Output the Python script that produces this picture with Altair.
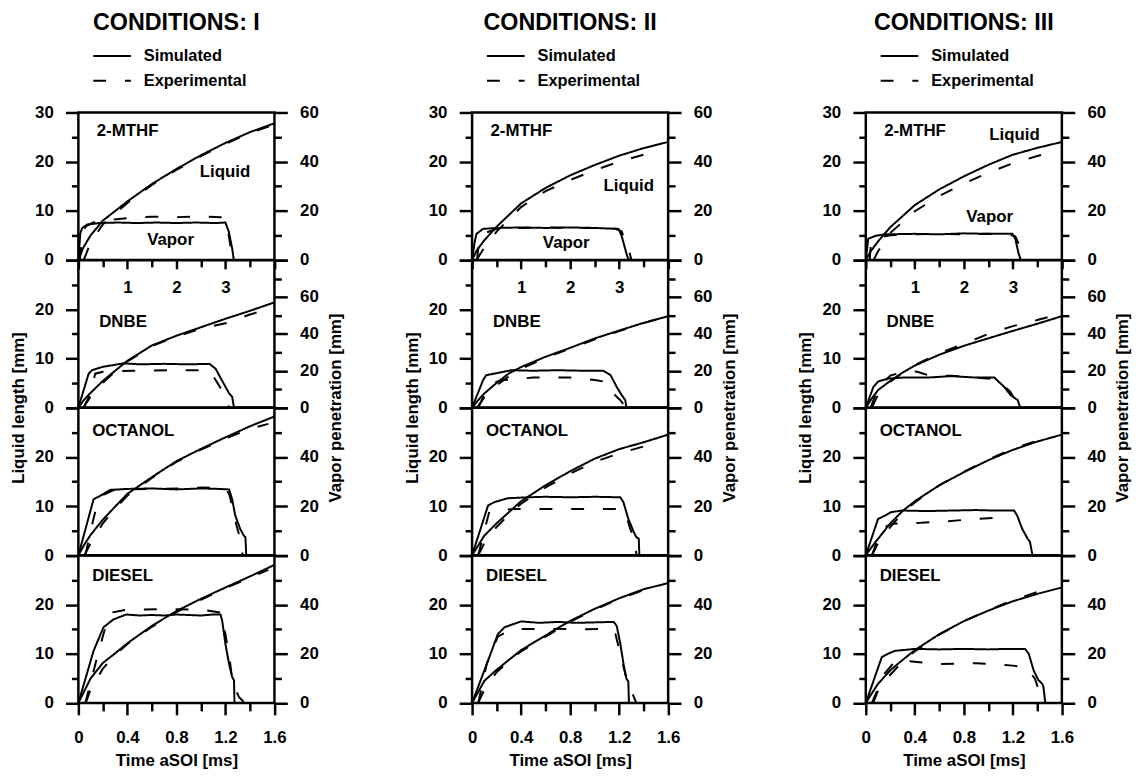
import altair as alt
import pandas as pd

FONT = "Liberation Sans"
KINDS = ["Simulated", "Experimental"]
DASHES = [[1, 0], [13, 19]]
PANEL_NAMES = ["2-MTHF", "DNBE", "OCTANOL", "DIESEL"]
COLUMN_TITLES = ["CONDITIONS: I", "CONDITIONS: II", "CONDITIONS: III"]

# ---------------- Column I ----------------
I_MTHF_FLAT_SIM = [(0, 0), (0.04, 5.5), (0.08, 6.5), (0.18, 7.2), (0.44, 7.5), (0.8, 7.6), (1.2, 7.5), (1.6, 7.6), (2.0, 7.5), (2.4, 7.6), (2.8, 7.5), (3.0, 7.6), (3.07, 5.7), (3.14, 2.2), (3.17, 0), (4.0, 0)]
I_MTHF_FLAT_EXP = [(0.03, 0), (0.08, 5.0), (0.15, 6.8), (0.3, 7.6), (0.6, 8.1), (1.0, 8.5), (1.5, 8.8), (2.0, 8.7), (2.5, 8.8), (2.9, 8.7), (3.02, 8.0), (3.1, 3.0), (3.15, 0)]
I_MTHF_RISE_SIM = [(0, 0), (0.1, 5), (0.25, 10), (0.5, 16), (1.0, 23.8), (1.5, 30.9), (2.0, 37), (2.5, 42.6), (3.0, 47.6), (3.5, 52), (4.0, 55.6)]
I_MTHF_RISE_EXP = [(0.11, 0), (0.25, 7), (0.5, 14.5), (1.0, 23.2), (1.5, 30.5), (2.0, 36.6), (2.5, 42.2), (3.0, 47.2), (3.5, 51.6), (4.0, 55.2)]

I_DNBE_FLAT_SIM = [(0, 0), (0.084, 6.9), (0.11, 7.6), (0.2, 8.3), (0.37, 9.0), (0.5, 8.8), (0.7, 8.9), (0.9, 8.8), (1.07, 8.9), (1.12, 7.9), (1.17, 5.6), (1.23, 2.9), (1.255, 2.2), (1.27, 0), (1.6, 0)]
I_DNBE_FLAT_EXP = [(0.043, 0), (0.1, 2.9), (0.137, 6.9), (0.2, 7.3), (0.45, 7.5), (0.75, 7.6), (1.02, 7.6), (1.08, 7.3), (1.12, 5.6), (1.17, 3.6), (1.21, 1.5), (1.23, 0)]
I_DNBE_RISE_SIM = [(0, 0), (0.05, 4.5), (0.1, 8), (0.2, 14.5), (0.3, 20), (0.4, 25.4), (0.6, 33.7), (0.8, 39), (1.0, 43.6), (1.2, 48.2), (1.4, 52.5), (1.6, 57.1)]
I_DNBE_RISE_EXP = [(0.04, 0), (0.1, 6), (0.2, 13.5), (0.3, 19.5), (0.4, 25), (0.6, 33.3), (0.8, 38.6), (1.0, 42.8), (1.2, 45.8), (1.4, 50.5), (1.58, 54)]

I_OCT_FLAT_SIM = [(0, 0), (0.124, 11.4), (0.178, 12.1), (0.26, 13.3), (0.4, 13.5), (0.6, 13.6), (0.8, 13.4), (1.0, 13.6), (1.15, 13.5), (1.23, 13.4), (1.255, 11.4), (1.28, 8.1), (1.32, 5.4), (1.35, 4.0), (1.363, 3.7), (1.37, 0), (1.6, 0)]
I_OCT_FLAT_EXP = [(0.057, 0), (0.1, 5), (0.137, 8.8), (0.2, 12.3), (0.3, 13.4), (0.6, 13.5), (0.9, 13.6), (1.01, 13.8), (1.2, 13.6), (1.23, 12.5), (1.255, 10.1), (1.29, 6.1), (1.32, 3.4), (1.336, 2.0), (1.34, 0)]
I_OCT_RISE_SIM = [(0, 0), (0.05, 4.5), (0.1, 8.3), (0.2, 14.5), (0.3, 19.8), (0.4, 25), (0.6, 31.8), (0.8, 38.3), (1.0, 43.3), (1.2, 48), (1.4, 52.5), (1.6, 56.5)]
I_OCT_RISE_EXP = [(0.05, 0), (0.1, 5), (0.2, 13), (0.3, 19), (0.4, 24.3), (0.6, 31.5), (0.8, 38), (1.0, 43), (1.2, 47.5), (1.4, 51.5), (1.55, 53.5)]

I_DIESEL_FLAT_SIM = [(0, 0), (0.124, 10.6), (0.205, 15.4), (0.286, 17.0), (0.39, 18.0), (0.5, 17.8), (0.6, 17.9), (0.7, 17.8), (0.8, 18.0), (0.9, 17.9), (1.0, 17.8), (1.1, 18.0), (1.16, 18.0), (1.174, 16.7), (1.2, 12.0), (1.23, 7.9), (1.255, 5.3), (1.27, 4.6), (1.274, 0), (1.6, 0)]
I_DIESEL_FLAT_EXP = [(0.057, 0), (0.15, 9), (0.21, 14.5), (0.27, 18.4), (0.4, 19.0), (0.7, 19.1), (1.0, 19.0), (1.16, 18.4), (1.2, 14.0), (1.24, 7.9), (1.255, 4.6), (1.31, 1.2), (1.35, 0.2)]
I_DIESEL_RISE_SIM = [(0, 0), (0.05, 5), (0.1, 10), (0.2, 16.3), (0.3, 20.2), (0.4, 24.3), (0.6, 31.4), (0.8, 37.4), (1.0, 42.4), (1.2, 47), (1.4, 51.5), (1.6, 56.2)]
I_DIESEL_RISE_EXP = [(0.06, 0), (0.1, 5.5), (0.2, 14), (0.3, 19.5), (0.4, 24), (0.6, 31), (0.8, 37), (1.0, 42), (1.2, 46.7), (1.4, 51), (1.55, 54.2)]

# ---------------- Column II ----------------
II_MTHF_FLAT_SIM = [(0, 0), (0.05, 3.5), (0.09, 5.3), (0.22, 6.3), (0.5, 6.5), (1.0, 6.6), (1.5, 6.5), (2.0, 6.6), (2.5, 6.5), (2.99, 6.3), (3.05, 4.9), (3.16, 0.9), (3.2, 0), (4.0, 0)]
II_MTHF_FLAT_EXP = [(0.1, 0), (0.15, 4.5), (0.3, 5.6), (0.5, 6.3), (1.0, 6.5), (1.5, 6.6), (2.0, 6.5), (2.5, 6.5), (2.9, 6.4), (3.05, 5.8), (3.2, 2.0), (3.25, 0)]
II_MTHF_RISE_SIM = [(0, 0), (0.1, 4), (0.25, 8), (0.5, 13.5), (1.0, 23), (1.5, 29.3), (2.0, 34.4), (2.5, 38.6), (3.0, 42.4), (3.5, 45.5), (4.0, 48)]
II_MTHF_RISE_EXP = [(0.09, 0), (0.25, 5), (0.5, 11.5), (1.0, 21.5), (1.5, 28), (2.0, 32.5), (2.5, 36.5), (3.0, 40), (3.5, 42.8), (3.87, 44.3)]

II_DNBE_FLAT_SIM = [(0, 0), (0.09, 5.6), (0.116, 6.6), (0.18, 6.9), (0.32, 7.6), (0.5, 7.5), (0.7, 7.6), (0.9, 7.5), (1.07, 7.5), (1.13, 6.6), (1.18, 4.2), (1.22, 2.6), (1.25, 1.5), (1.26, 0), (1.6, 0)]
II_DNBE_FLAT_EXP = [(0.05, 0), (0.1, 2.6), (0.157, 4.9), (0.25, 5.6), (0.5, 6.1), (0.8, 6.1), (1.0, 5.6), (1.1, 5.2), (1.15, 2.9), (1.21, 1.5), (1.24, 0.5), (1.25, 0)]
II_DNBE_RISE_SIM = [(0, 0), (0.05, 4), (0.1, 7.7), (0.2, 13.4), (0.3, 18.5), (0.4, 22), (0.6, 27.6), (0.8, 32.4), (1.0, 37.5), (1.2, 41.8), (1.4, 46), (1.6, 49.6)]
II_DNBE_RISE_EXP = [(0.04, 0), (0.1, 5.5), (0.2, 12), (0.3, 17), (0.4, 21), (0.6, 27), (0.8, 32), (1.0, 37), (1.2, 41.5), (1.4, 45.8), (1.6, 49.6)]

II_OCT_FLAT_SIM = [(0, 0), (0.13, 10.1), (0.18, 10.8), (0.29, 11.6), (0.45, 11.8), (0.6, 11.9), (0.8, 11.8), (1.0, 11.9), (1.21, 11.8), (1.235, 10.8), (1.275, 7.4), (1.32, 4.7), (1.34, 3.7), (1.36, 3.4), (1.365, 0), (1.6, 0)]
II_OCT_FLAT_EXP = [(0.05, 0), (0.1, 5), (0.14, 8.8), (0.2, 9.2), (0.35, 9.4), (0.6, 9.4), (0.9, 9.4), (1.2, 9.4), (1.25, 8.8), (1.29, 5.4), (1.33, 3.0), (1.336, 2.0), (1.34, 0)]
II_OCT_RISE_SIM = [(0, 0), (0.05, 4), (0.1, 8), (0.2, 13), (0.3, 17.5), (0.4, 22), (0.6, 28.5), (0.8, 34.2), (1.0, 39.3), (1.2, 43.2), (1.4, 46), (1.6, 49.1)]
II_OCT_RISE_EXP = [(0.05, 0), (0.1, 5), (0.2, 11.5), (0.3, 16.5), (0.4, 21), (0.6, 27.6), (0.8, 33.2), (1.0, 38), (1.2, 41.5), (1.4, 44.3), (1.5, 45.3)]

II_DIESEL_FLAT_SIM = [(0, 0), (0.13, 8.6), (0.21, 14.0), (0.264, 15.4), (0.4, 16.6), (0.55, 16.3), (0.7, 16.5), (0.85, 16.3), (1.0, 16.4), (1.155, 16.5), (1.18, 15.7), (1.21, 12.0), (1.236, 7.9), (1.26, 4.9), (1.275, 4.4), (1.28, 0), (1.6, 0)]
II_DIESEL_FLAT_EXP = [(0.05, 0), (0.12, 8), (0.21, 13.5), (0.32, 15.0), (0.6, 15.1), (0.9, 15.0), (1.12, 15.1), (1.17, 14.0), (1.21, 10.0), (1.236, 7.3), (1.26, 4.9), (1.34, 0)]
II_DIESEL_RISE_SIM = [(0, 0), (0.05, 4.5), (0.1, 9), (0.2, 13.5), (0.3, 17.5), (0.4, 21.5), (0.6, 27.5), (0.8, 33.4), (1.0, 38.3), (1.2, 42.6), (1.4, 46.3), (1.6, 48.8)]
II_DIESEL_RISE_EXP = [(0.05, 0), (0.1, 5.5), (0.2, 12.5), (0.3, 17), (0.4, 21), (0.6, 27), (0.8, 33), (1.0, 38), (1.2, 42.3), (1.4, 46), (1.5, 47.5)]

# ---------------- Column III ----------------
III_MTHF_FLAT_SIM = [(0, 0), (0.05, 4.3), (0.2, 4.9), (0.4, 5.2), (1.0, 5.3), (1.5, 5.2), (2.0, 5.4), (2.5, 5.3), (2.99, 5.3), (3.05, 4.3), (3.11, 1.6), (3.16, 0), (4.0, 0)]
III_MTHF_FLAT_EXP = [(0.08, 0), (0.1, 3), (0.2, 4.4), (0.5, 5.0), (1.0, 5.2), (1.5, 5.3), (2.0, 5.2), (2.5, 5.3), (2.9, 5.2), (3.05, 4.8), (3.2, 1.5), (3.26, 0)]
III_MTHF_RISE_SIM = [(0, 0), (0.1, 3.5), (0.25, 7.5), (0.5, 13.3), (1.0, 22.3), (1.5, 28.7), (2.0, 34), (2.5, 38.7), (3.0, 42.8), (3.5, 45.6), (4.0, 48)]
III_MTHF_RISE_EXP = [(0.16, 0), (0.25, 3.5), (0.5, 11), (1.0, 19.8), (1.5, 26), (2.0, 31), (2.5, 35.5), (3.0, 39.3), (3.5, 42.3), (3.87, 44.3)]

III_DNBE_FLAT_SIM = [(0, 0), (0.062, 4.2), (0.1, 5.3), (0.18, 5.9), (0.3, 6.1), (0.5, 6.1), (0.7, 6.4), (0.9, 6.1), (1.05, 6.1), (1.07, 5.6), (1.13, 4.2), (1.18, 2.6), (1.24, 1.5), (1.26, 0), (1.6, 0)]
III_DNBE_FLAT_EXP = [(0.04, 0), (0.1, 4), (0.2, 6.5), (0.32, 7.4), (0.42, 7.3), (0.52, 6.5), (0.7, 6.5), (0.9, 6.1), (1.05, 5.8), (1.12, 4.6), (1.18, 3.2), (1.22, 1.5), (1.24, 0)]
III_DNBE_RISE_SIM = [(0, 0), (0.05, 5), (0.1, 9.5), (0.2, 14.5), (0.3, 19), (0.4, 22.8), (0.6, 28.7), (0.8, 33.5), (1.0, 37.6), (1.2, 41.6), (1.4, 45.5), (1.6, 49.6)]
III_DNBE_RISE_EXP = [(0.05, 0), (0.1, 7), (0.2, 14), (0.3, 18.8), (0.4, 23), (0.6, 29.5), (0.8, 34.5), (1.0, 40), (1.2, 44.2), (1.4, 47.5), (1.56, 50.5)]

III_OCT_FLAT_SIM = [(0, 0), (0.1, 7.4), (0.143, 7.9), (0.21, 8.8), (0.3, 9.1), (0.5, 9.0), (0.7, 9.1), (0.9, 9.2), (1.05, 9.1), (1.21, 9.1), (1.235, 8.1), (1.276, 5.4), (1.32, 3.4), (1.34, 2.7), (1.36, 0), (1.6, 0)]
III_OCT_FLAT_EXP = [(0.05, 0), (0.1, 3.5), (0.156, 5.7), (0.21, 6.4), (0.45, 6.6), (0.65, 6.9), (0.9, 7.4), (1.1, 7.7)]
III_OCT_RISE_SIM = [(0, 0), (0.05, 3.5), (0.1, 6.7), (0.2, 13), (0.3, 18), (0.4, 22), (0.6, 28.5), (0.8, 33.8), (1.0, 38.7), (1.2, 42.9), (1.4, 46.3), (1.6, 49.1)]
III_OCT_RISE_EXP = [(0.05, 0), (0.1, 5), (0.2, 11.5), (0.3, 17.2), (0.4, 21.5), (0.6, 28.5), (0.8, 34), (1.0, 39), (1.2, 43.3), (1.4, 46.7), (1.5, 48)]

III_DIESEL_FLAT_SIM = [(0, 0), (0.13, 9.3), (0.18, 10.0), (0.237, 10.6), (0.4, 11.0), (0.6, 10.9), (0.8, 11.0), (1.0, 10.9), (1.15, 11.0), (1.3, 11.0), (1.33, 10.0), (1.37, 6.6), (1.41, 4.6), (1.44, 3.9), (1.45, 3.2), (1.465, 0), (1.6, 0)]
III_DIESEL_FLAT_EXP = [(0.05, 0), (0.15, 5.9), (0.25, 8.8), (0.35, 8.5), (0.6, 7.9), (0.9, 8.1), (1.2, 7.6), (1.3, 7.3), (1.38, 5), (1.42, 1.9), (1.44, 0)]
III_DIESEL_RISE_SIM = [(0, 0), (0.05, 4), (0.1, 7.8), (0.2, 13.3), (0.3, 17.5), (0.4, 21.5), (0.6, 28), (0.8, 33.3), (1.0, 37.6), (1.2, 41.4), (1.4, 44.4), (1.6, 47)]
III_DIESEL_RISE_EXP = [(0.06, 0), (0.1, 5), (0.2, 11.5), (0.3, 16.8), (0.4, 21), (0.6, 27.8), (0.8, 33.3), (1.0, 37.8), (1.2, 41.8), (1.4, 45.2), (1.5, 46.5)]

# In-panel notes of the top panels: (text, x offset, y offset)
NOTES = [
    [("Liquid", 148, 60), ("Vapor", 93, 129)],
    [("Liquid", 158, 74), ("Vapor", 95, 132)],
    [("Liquid", 150, 23), ("Vapor", 125, 105)],
]
NAME_POS = [(18.5, 19), (21, 62), (14, 23.3), (14, 21)]

W = 197.8
H = 148.7
FS = 17
GAP = 199.4


def frame(sim, exp):
    rows = []
    for kind, pts in ((KINDS[0], sim), (KINDS[1], exp)):
        for i, (t, v) in enumerate(pts):
            rows.append({"t": t, "v": v, "kind": kind, "i": i})
    return pd.DataFrame(rows)


LEGEND = alt.Legend(
    orient="none", legendX=14, legendY=-65.5, title=None, direction="vertical",
    symbolType="stroke", symbolSize=1444, symbolStrokeWidth=2, symbolStrokeColor="black",
    labelFont=FONT, labelFontSize=16.5, labelFontWeight="bold", labelColor="black",
    labelOffset=12, rowPadding=8, clipHeight=17, padding=0,
)


def dash():
    return alt.StrokeDash("kind:N", scale=alt.Scale(domain=KINDS, range=DASHES), legend=LEGEND)


def x_axis(pos):
    if pos == "top":
        return alt.Axis(
            orient="bottom", values=[v / 2 for v in range(0, 9)], title=None,
            labelExpr="(datum.value == 1 || datum.value == 2 || datum.value == 3) ? format(datum.value, 'd') : ''",
            tickSize={"condition": {"test": "datum.value % 1 === 0", "value": 9}, "value": 7},
            labelPadding=11, labelFlush=False, labelOverlap=False, domain=False, grid=False,
        )
    if pos == "bottom":
        return alt.Axis(
            orient="bottom", values=[round(v * 0.2, 1) for v in range(0, 9)],
            title="Time aSOI [ms]", titleY=58, titleBaseline="middle",
            labelExpr="round(datum.value * 10) % 4 === 0 ? format(datum.value, '.1~f') : ''",
            tickSize={"condition": {"test": "round(datum.value * 10) % 4 === 0", "value": 12}, "value": 8},
            labelPadding=14.7, labelFlush=False, labelOverlap=False, domain=False, grid=False,
        )
    return None


def panel(col, idx, flat_sim, flat_exp, rise_sim, rise_exp):
    pos = ["top", "dnbe", "mid", "bottom"][idx]
    xdom = [0, 4] if pos == "top" else [0, 1.6]
    rmax = 80 if pos == "dnbe" else 60
    rlimit = {"top": 61, "dnbe": 80, "mid": 60, "bottom": 60}[pos]
    llimit = 31 if pos == "top" else 30

    xenc = alt.X("t:Q", scale=alt.Scale(domain=xdom, nice=False, zero=False), axis=x_axis(pos))

    left_kw = dict(
        values=list(range(0, 31, 5)),
        labelExpr=f"datum.value % 10 === 0 && datum.value < {llimit} ? datum.label : ''",
        tickSize={"condition": {"test": "datum.value % 10 === 0", "value": 13}, "value": 7},
        labelPadding=12.3, labelFlush=False, labelOverlap=False, domain=False, grid=False,
        title=None,
    )
    right_kw = dict(
        orient="right",
        values=list(range(0, rmax + 1, 10)),
        labelExpr=f"datum.value % 20 === 0 && datum.value < {rlimit} ? datum.label : ''",
        tickSize={"condition": {"test": "datum.value % 20 === 0", "value": 13}, "value": 7},
        labelPadding=12.3, labelFlush=False, labelOverlap=False, domain=False, grid=False,
        title=None,
    )
    if pos == "dnbe":
        left_kw.update(title="Liquid length [mm]", titleX=-60.5, titleY=H, titleAngle=270,
                       titleAlign="center", titleBaseline="middle")
        right_kw.update(title="Vapor penetration [mm]", titleX=61.5, titleY=H, titleAngle=270,
                        titleAlign="center", titleBaseline="middle")

    flat = alt.Chart(frame(flat_sim, flat_exp)).mark_line(color="black", strokeWidth=2).encode(
        x=xenc,
        y=alt.Y("v:Q", scale=alt.Scale(domain=[0, 30], nice=False), axis=alt.Axis(**left_kw)),
        strokeDash=dash(),
        order="i:Q",
    )
    rise = alt.Chart(frame(rise_sim, rise_exp)).mark_line(color="black", strokeWidth=2).encode(
        x=xenc,
        y=alt.Y("v:Q", scale=alt.Scale(domain=[0, rmax], nice=False), axis=alt.Axis(**right_kw)),
        strokeDash=dash(),
        order="i:Q",
    )
    nx, ny = NAME_POS[idx]
    name = alt.Chart(pd.DataFrame({"label": [PANEL_NAMES[idx]]})).mark_text(
        align="left", baseline="middle", font=FONT, fontSize=FS, fontWeight="bold", color="black"
    ).encode(text="label:N", x=alt.value(nx), y=alt.value(ny))
    layers = [flat, rise, name]
    if pos == "top":
        for text, tx, ty in NOTES[col]:
            layers.append(
                alt.Chart(pd.DataFrame({"label": [text]})).mark_text(
                    align="center", baseline="middle", font=FONT, fontSize=FS, fontWeight="bold", color="black"
                ).encode(text="label:N", x=alt.value(tx), y=alt.value(ty))
            )
    return alt.layer(*layers).resolve_scale(y="independent").properties(width=W, height=H)


DATA = [
    [(I_MTHF_FLAT_SIM, I_MTHF_FLAT_EXP, I_MTHF_RISE_SIM, I_MTHF_RISE_EXP),
     (I_DNBE_FLAT_SIM, I_DNBE_FLAT_EXP, I_DNBE_RISE_SIM, I_DNBE_RISE_EXP),
     (I_OCT_FLAT_SIM, I_OCT_FLAT_EXP, I_OCT_RISE_SIM, I_OCT_RISE_EXP),
     (I_DIESEL_FLAT_SIM, I_DIESEL_FLAT_EXP, I_DIESEL_RISE_SIM, I_DIESEL_RISE_EXP)],
    [(II_MTHF_FLAT_SIM, II_MTHF_FLAT_EXP, II_MTHF_RISE_SIM, II_MTHF_RISE_EXP),
     (II_DNBE_FLAT_SIM, II_DNBE_FLAT_EXP, II_DNBE_RISE_SIM, II_DNBE_RISE_EXP),
     (II_OCT_FLAT_SIM, II_OCT_FLAT_EXP, II_OCT_RISE_SIM, II_OCT_RISE_EXP),
     (II_DIESEL_FLAT_SIM, II_DIESEL_FLAT_EXP, II_DIESEL_RISE_SIM, II_DIESEL_RISE_EXP)],
    [(III_MTHF_FLAT_SIM, III_MTHF_FLAT_EXP, III_MTHF_RISE_SIM, III_MTHF_RISE_EXP),
     (III_DNBE_FLAT_SIM, III_DNBE_FLAT_EXP, III_DNBE_RISE_SIM, III_DNBE_RISE_EXP),
     (III_OCT_FLAT_SIM, III_OCT_FLAT_EXP, III_OCT_RISE_SIM, III_OCT_RISE_EXP),
     (III_DIESEL_FLAT_SIM, III_DIESEL_FLAT_EXP, III_DIESEL_RISE_SIM, III_DIESEL_RISE_EXP)],
]

columns = []
for c in range(3):
    panels = [panel(c, p, *DATA[c][p]) for p in range(4)]
    col = alt.vconcat(*panels, spacing=0, bounds="flush").properties(
        title=alt.TitleParams(COLUMN_TITLES[c], font=FONT, fontSize=23.5, fontWeight="bold",
                              color="black", anchor="middle", frame="bounds", offset=13.5)
    )
    columns.append(col)

# the column groups have no width of their own under flush bounds, so the
# spacing spans one plot width plus the gap between plots
chart = alt.hconcat(*columns, spacing=W + GAP, bounds="flush").resolve_scale(
    strokeDash="independent"
).properties(
    padding={"left": 0, "top": -1, "right": 5, "bottom": 5}
).configure_view(
    stroke="black", strokeWidth=2.5
).configure_axis(
    labelFont=FONT, labelFontSize=FS, labelFontWeight="bold", labelColor="black",
    titleFont=FONT, titleFontSize=FS, titleFontWeight="bold", titleColor="black",
    tickColor="black", tickWidth=2.5,
)

chart.save("out.html", embed_options={"renderer": "svg", "actions": False})
